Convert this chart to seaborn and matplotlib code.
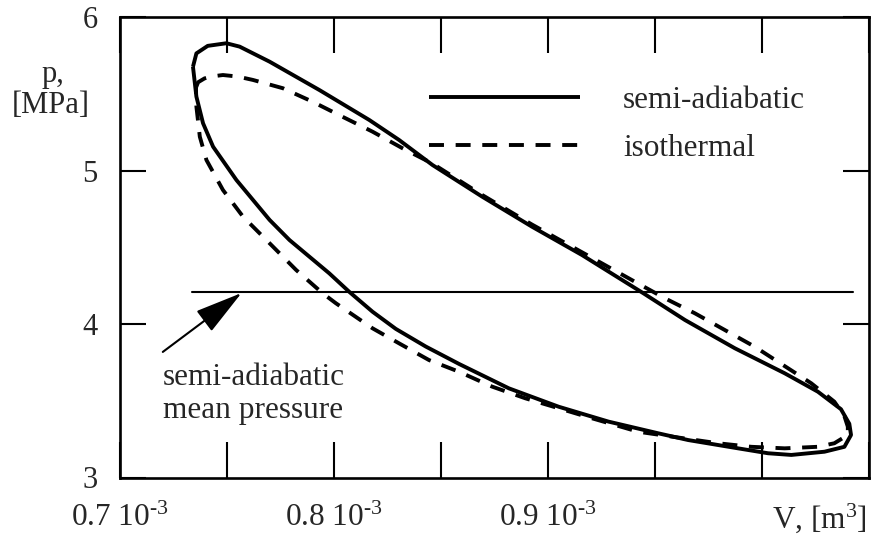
import matplotlib
matplotlib.use("Agg")
import matplotlib.pyplot as plt
import seaborn as sns
import numpy as np
import pandas as pd

# ---------------- data (V in 10^-3 m^3, p in MPa) ----------------
semi_V = [0.7341, 0.7357, 0.7410, 0.7497, 0.7559, 0.7699, 0.7932, 0.8165, 0.8304,
          0.8460, 0.8693, 0.8925, 0.9158, 0.9446, 0.9640, 0.9873, 1.0106, 1.0261,
          1.0369, 1.0408, 1.0416, 1.0385, 1.0292, 1.0137, 1.0028, 0.9888, 0.9655,
          0.9515, 0.9283, 0.9050, 0.8817, 0.8584, 0.8429, 0.8289, 0.8180, 0.8071,
          0.7978, 0.7792, 0.7699, 0.7544, 0.7435, 0.7388, 0.7357, 0.7341]
semi_p = [5.676, 5.763, 5.812, 5.829, 5.807, 5.709, 5.524, 5.329, 5.199,
          5.036, 4.829, 4.634, 4.450, 4.200, 4.026, 3.842, 3.679, 3.559,
          3.445, 3.350, 3.277, 3.200, 3.168, 3.147, 3.158, 3.190, 3.244,
          3.288, 3.364, 3.461, 3.581, 3.740, 3.853, 3.968, 4.080, 4.210,
          4.330, 4.547, 4.678, 4.938, 5.155, 5.308, 5.481, 5.676]

iso_V = [0.7355, 0.7365, 0.7395, 0.7430, 0.7481, 0.7550, 0.7621, 0.7761, 0.7900,
         0.8040, 0.8180, 0.8320, 0.8460, 0.8693, 0.8925, 0.9158, 0.9391, 0.9547,
         0.9686, 0.9826, 0.9966, 1.0098, 1.0230, 1.0338, 1.0385, 1.0401, 1.0401,
         1.0338, 1.0260, 1.0106, 0.9950, 0.9795, 0.9422, 0.9205, 0.9050, 0.8894,
         0.8739, 0.8584, 0.8444, 0.8304, 0.8180, 0.8009, 0.7947, 0.7823, 0.7699,
         0.7575, 0.7481, 0.7404, 0.7373, 0.7357, 0.7355]
iso_p = [5.540, 5.575, 5.600, 5.613, 5.622, 5.612, 5.590, 5.536, 5.448,
         5.350, 5.253, 5.145, 5.045, 4.840, 4.648, 4.468, 4.287, 4.167,
         4.070, 3.961, 3.852, 3.733, 3.614, 3.494, 3.400, 3.331, 3.277,
         3.223, 3.200, 3.190, 3.200, 3.223, 3.298, 3.386, 3.451, 3.516,
         3.592, 3.689, 3.765, 3.874, 3.972, 4.135, 4.200, 4.352, 4.526,
         4.699, 4.873, 5.068, 5.220, 5.416, 5.540]

mean_V = [0.7336, 1.0424]
mean_p = [4.21, 4.21]

arrow_tail = (0.7200, 3.818)
arrow_tip = (0.7568, 4.202)

x_ticks = [0.70, 0.75, 0.80, 0.85, 0.90, 0.95, 1.00, 1.05]
x_tick_labels = [r"0.7 10$^{\text{-3}}$", "", r"0.8 10$^{\text{-3}}$", "",
                 r"0.9 10$^{\text{-3}}$", "", "", ""]
y_ticks = [3, 4, 5, 6]
y_tick_labels = ["3", "4", "5", "6"]

series_labels = ["semi-adiabatic", "isothermal"]
note_lines = ["semi-adiabatic", "mean pressure"]
x_label = r"V, [m$^{3}$]"
y_label_lines = ["p,", "[MPa]"]

# ---------------- style ----------------
sns.set_style("white")
plt.rcParams["font.family"] = ["Liberation Serif", "DejaVu Serif"]
plt.rcParams["mathtext.fontset"] = "custom"
plt.rcParams["mathtext.rm"] = "Liberation Serif"
plt.rcParams["mathtext.it"] = "Liberation Serif:italic"
plt.rcParams["mathtext.bf"] = "Liberation Serif:bold"

W, H = 871, 537
fig = plt.figure(figsize=(W / 100, H / 100), dpi=100)
ax_l, ax_r, ax_t, ax_b = 120, 869, 17, 477.5
ax = fig.add_axes([ax_l / W, 1 - ax_b / H, (ax_r - ax_l) / W, (ax_b - ax_t) / H])

LW = 2.8
df_semi = pd.DataFrame({"V": semi_V, "p": semi_p})
df_iso = pd.DataFrame({"V": iso_V, "p": iso_p})
df_mean = pd.DataFrame({"V": mean_V, "p": mean_p})

sns.lineplot(data=df_semi, x="V", y="p", sort=False, estimator=None, color="black",
             lw=LW, ax=ax, label=series_labels[0])
sns.lineplot(data=df_iso, x="V", y="p", sort=False, estimator=None, color="black",
             lw=LW, ax=ax, label=series_labels[1])
ax.lines[-1].set_dashes([3.85, 3.0])
for ln in ax.lines:
    ln.set_solid_capstyle("butt")
    ln.set_dash_capstyle("butt")
    ln.set_solid_joinstyle("round")
sns.lineplot(data=df_mean, x="V", y="p", sort=False, estimator=None, color="black",
             lw=1.5, ax=ax)

ax.annotate("", xy=arrow_tip, xytext=arrow_tail,
            arrowprops=dict(arrowstyle="-|>,head_length=3.0,head_width=0.8",
                            lw=1.5, color="black", shrinkA=0, shrinkB=0))

ax.set_xlim(0.70, 1.0489)
ax.set_ylim(3, 6)
ax.set_xticks(x_ticks)
ax.set_xticklabels(x_tick_labels)
ax.set_yticks(y_ticks)
ax.set_yticklabels(y_tick_labels)
ax.set_xlabel("")
ax.set_ylabel("")

ax.tick_params(axis="x", which="major", direction="in", length=26, width=1.5,
               top=True, bottom=True, labelsize=22.5, pad=19, color="black")
ax.tick_params(axis="y", which="major", direction="in", length=18.5, width=1.5,
               left=True, right=True, labelsize=22, pad=16, color="black")
for s in ax.spines.values():
    s.set_visible(True)
    s.set_linewidth(1.9)
    s.set_color("black")

FS = 22.5
# annotation text
ax.text(0.7199, 3.603, note_lines[0], fontsize=FS, ha="left", va="baseline")
ax.text(0.7199, 3.388, note_lines[1], fontsize=FS, ha="left", va="baseline")

# axis labels
fig.text(867 / W, 1 - 528 / H, x_label, fontsize=22.5, ha="right", va="baseline")
fig.text(53 / W, 1 - 82 / H, y_label_lines[0], fontsize=22, ha="center", va="baseline")
fig.text(51 / W, 1 - 113 / H, y_label_lines[1], fontsize=22, ha="center", va="baseline")

leg = ax.legend(loc="upper left", bbox_to_anchor=((429 - ax_l) / (ax_r - ax_l),
                                                  (ax_b - 86) / (ax_b - ax_t)),
                frameon=False, fontsize=FS, handlelength=4.83, handletextpad=1.38,
                labelspacing=0.6, borderpad=0, borderaxespad=0)

fig.savefig("out.png", dpi=100)
